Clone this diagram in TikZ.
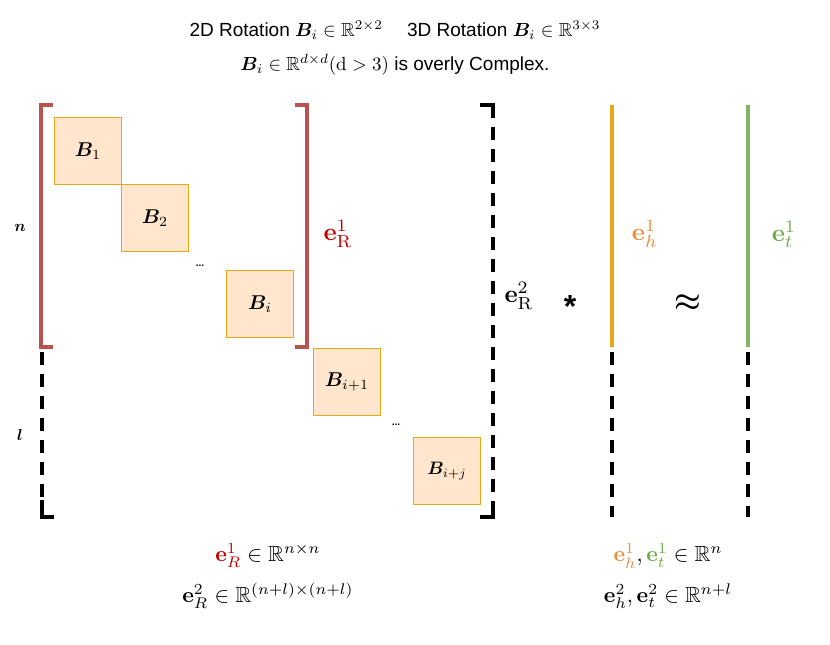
\documentclass[tikz,border=0pt]{standalone}
\usepackage{amsmath,amssymb,bm}
\usepackage[no-math]{fontspec}
\setmainfont{Liberation Sans}
\definecolor{bred}{HTML}{B85450}
\definecolor{tred}{HTML}{C00000}
\definecolor{bor}{HTML}{E6A817}
\definecolor{bfill}{HTML}{FFE6CC}
\definecolor{tor}{HTML}{F08C3C}
\definecolor{gr}{HTML}{82B366}
\definecolor{tgr}{HTML}{70AD47}
\newcommand{\mysc}[2]{\scalebox{#1}{#2}}
\begin{document}
\begin{tikzpicture}[x=1pt,y=-1pt,font=\normalsize,
  blk/.style={draw=bor,fill=bfill,line width=1pt,minimum width=67pt,minimum height=67pt,anchor=north west,inner sep=0pt},
  dsh/.style={line width=3.5pt,dash pattern=on 13pt off 9pt},
  lbl/.style={inner sep=0pt}]
\useasboundingbox (0,0) rectangle (830,645);
\node[lbl] (t1) at (395,30) {\mysc{1.9}{2D Rotation $\bm{B}_i\in\mathbb{R}^{2\times2}$\quad\ 3D Rotation $\bm{B}_i\in\mathbb{R}^{3\times3}$}};
\node[lbl] (t2) at (395,65) {\mysc{1.9}{$\bm{B}_i\in\mathbb{R}^{d\times d}(\mathrm{d}>3)$ is overly Complex.}};
% red bracket
\draw[bred,line width=3.5pt] (53,105) -- (41,105) -- (41,347) -- (53,347);
\draw[bred,line width=3.5pt] (295,105) -- (307,105) -- (307,347) -- (295,347);
% black dashed brackets
\draw[dsh] (42,352) -- (42,517);
\draw[line width=3.5pt] (42,500) -- (42,517) -- (54,517);
\draw[dsh] (493,105) -- (493,517);
\draw[line width=3.5pt] (480,105) -- (493,105) -- (493,112);
\draw[line width=3.5pt] (493,505) -- (493,517) -- (480,517);
% blocks
\node[blk] (b1) at (54,117) {\mysc{2}{$\bm{B}_1$}};
\node[blk] (b2) at (121,184) {\mysc{2}{$\bm{B}_2$}};
\node[lbl] (d1) at (200,266) {\textbf{...}};
\node[blk] (bi) at (226,270) {\mysc{2}{$\bm{B}_i$}};
\node[blk] (bi1) at (313,348) {\mysc{2}{$\bm{B}_{i+1}$}};
\node[lbl] (d2) at (396,425) {\textbf{...}};
\node[blk] (bij) at (413,437) {\mysc{1.8}{$\bm{B}_{i+j}$}};
\node[lbl] (n) at (20,228) {\mysc{1.6}{$\bm{n}$}};
\node[lbl] (l) at (20,435) {\mysc{1.6}{$\bm{l}$}};
\node[lbl,text=tred] (er1) at (338,234) {\mysc{2.5}{$\mathbf{e}^1_{\mathrm{R}}$}};
\node[lbl] (er2) at (519,296) {\mysc{2.5}{$\mathbf{e}^2_{\mathrm{R}}$}};
\node[lbl] (star) at (570,306) {\mysc{3.2}{\bfseries *}};
% vectors
\draw[bor,line width=3.5pt] (612,105) -- (612,347);
\draw[dsh] (612,352) -- (612,517);
\draw[gr,line width=3.5pt] (748,105) -- (748,347);
\draw[dsh] (748,352) -- (748,517);
\node[lbl,text=tor] (eh) at (645,234) {\mysc{2.5}{$\mathbf{e}^1_h$}};
\node[lbl] (ap) at (688,303) {\mysc{3}{$\boldsymbol{\approx}$}};
\node[lbl,text=tgr] (et) at (784,234) {\mysc{2.5}{$\mathbf{e}^1_t$}};
% bottom
\node[lbl] (bl1) at (268,556) {\mysc{2.2}{$\textcolor{tred}{\mathbf{e}^1_R}\in\mathbb{R}^{n\times n}$}};
\node[lbl] (bl2) at (268,596) {\mysc{2.2}{$\mathbf{e}^2_R\in\mathbb{R}^{(n+l)\times(n+l)}$}};
\node[lbl] (br1) at (668,556) {\mysc{2.2}{$\textcolor{tor}{\mathbf{e}^1_h},\textcolor{tgr}{\mathbf{e}^1_t}\in\mathbb{R}^{n}$}};
\node[lbl] (br2) at (668,596) {\mysc{2.2}{$\mathbf{e}^2_h,\mathbf{e}^2_t\in\mathbb{R}^{n+l}$}};
\end{tikzpicture}
\end{document}
